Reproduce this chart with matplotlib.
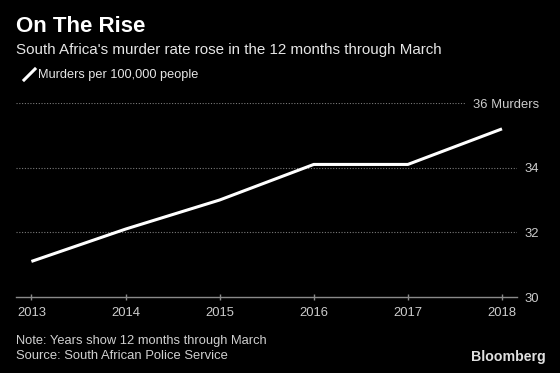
import matplotlib
matplotlib.use("Agg")
import matplotlib.pyplot as plt
from matplotlib.lines import Line2D

years = [2013, 2014, 2015, 2016, 2017, 2018]
murder_rate = [31.1, 32.1, 33.0, 34.1, 34.1, 35.2]
y_ticks = [30, 32, 34, 36]
y_tick_labels = ["30", "32", "34", "36 Murders"]

title = "On The Rise"
subtitle = "South Africa's murder rate rose in the 12 months through March"
legend_label = "Murders per 100,000 people"
note = "Note: Years show 12 months through March"
source = "Source: South African Police Service"

FONT = ['Liberation Sans', 'DejaVu Sans']
plt.rcParams['font.family'] = FONT
W, H = 560, 373

fig = plt.figure(figsize=(5.6, 3.73), dpi=100, facecolor='black')
ax = fig.add_axes([16/W, (H-297)/H, (517-16)/W, (297-103)/H], facecolor='black')

ax.plot(years, murder_rate, color='white', lw=2.2, solid_capstyle='butt', zorder=3)
ax.set_xlim(2013 - 15.4/94.1, 2018 + 15/94.1)
ax.set_ylim(30, 36)

for s in ['top', 'right', 'left']:
    ax.spines[s].set_visible(False)
ax.spines['bottom'].set_color('#8a8a8a')
ax.spines['bottom'].set_linewidth(1.0)

ax.set_xticks(years)
ax.set_xticklabels([str(y) for y in years])
ax.tick_params(axis='x', colors='#8a8a8a', length=5, width=1, direction='inout', labelsize=9.4, labelcolor='#cccccc', pad=5)

ax.set_yticks(y_ticks)
ax.set_yticklabels(y_tick_labels)
ax.yaxis.tick_right()
ax.tick_params(axis='y', length=0, labelsize=9.4, labelcolor='#cccccc', pad=(539-517)*0.72)
for lbl in ax.get_yticklabels():
    lbl.set_horizontalalignment('right')

# gridlines
for t in y_ticks[1:]:
    xmax = 1.0 if t != 36 else (466-16)/501
    ax.axhline(t, xmin=0, xmax=xmax, color='#7a7a7a', lw=0.8, ls=(0, (1, 1.5)), zorder=1)

renderer = fig.canvas.get_renderer()

def fit_text(x, y, s, target_w, size, ha='left', **kw):
    t = fig.text(x/W, 1 - y/H, s, fontsize=size, va='center', ha=ha, **kw)
    for _ in range(3):
        w = t.get_window_extent(renderer).width
        size = size * target_w / w
        t.set_fontsize(size)
    return t

fit_text(16, 27, title, 130, 14, color='white', fontweight='bold')
fit_text(16, 50, subtitle, 426, 12, color='#e6e6e6')
fig.lines.append(Line2D([24/W, 35/W], [1 - 80/H, 1 - 69/H], transform=fig.transFigure, color='white', lw=2.2))
fit_text(38, 75, legend_label, 160, 10.5, color='#e6e6e6')
fit_text(16, 341, note, 251, 11, color='#d0d0d0')
fit_text(16, 356, source, 212, 11, color='#d0d0d0')
fit_text(546, 357, "Bloomberg", 75, 11, ha='right', color='#e0e0e0', fontweight='bold')

fig.savefig("out.png", dpi=100, facecolor='black')
